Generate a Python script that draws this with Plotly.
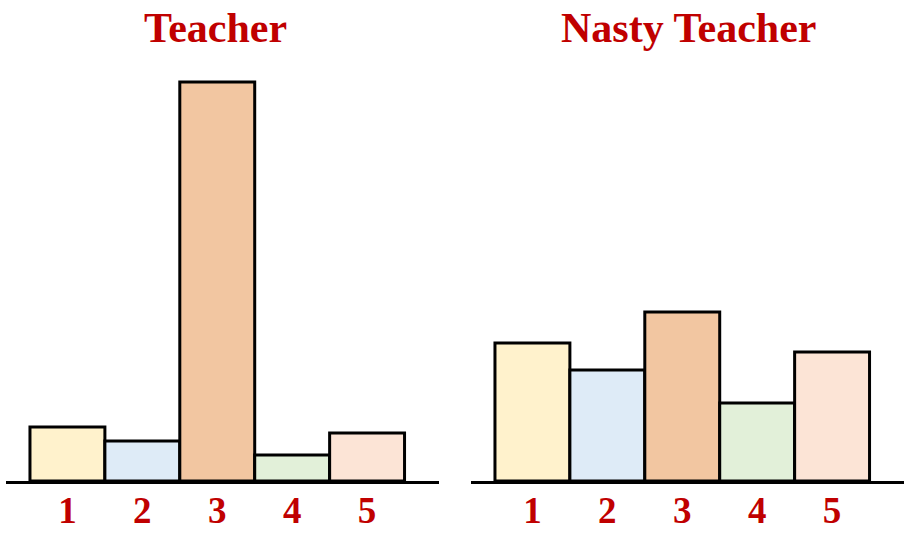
import plotly.graph_objects as go

categories = ["1", "2", "3", "4", "5"]
teacher_values = [54, 40, 399, 26, 48]
nasty_values = [138, 111, 169, 78, 129]
bar_colors = ["#FFF2CC", "#DEEBF7", "#F2C6A1", "#E2F0D9", "#FCE4D6"]
titles = ["Teacher", "Nasty Teacher"]

RED = "#C00000"
FONT = "Liberation Serif"

fig = go.Figure()
fig.add_trace(go.Bar(x=categories, y=teacher_values, xaxis="x", yaxis="y",
                     marker=dict(color=bar_colors, line=dict(color="black", width=3)),
                     showlegend=False, hoverinfo="skip"))
fig.add_trace(go.Bar(x=categories, y=nasty_values, xaxis="x2", yaxis="y2",
                     marker=dict(color=bar_colors, line=dict(color="black", width=3)),
                     showlegend=False, hoverinfo="skip"))

W, H = 916, 533
base = 481
ydom = [(H - base) / H, 1]

xcommon = dict(type="category", range=[-0.82, 4.96], showline=True, linecolor="black",
               linewidth=3, ticks="", showgrid=False, zeroline=False, automargin=False,
               ticklabelstandoff=-5,
               tickfont=dict(family=FONT, size=37, color=RED, weight="bold"))
ycommon = dict(range=[0, base], visible=False, showgrid=False, zeroline=False,
               domain=ydom, automargin=False)

fig.update_layout(
    width=W, height=H,
    margin=dict(l=0, r=0, t=0, b=0, pad=0),
    paper_bgcolor="white", plot_bgcolor="white",
    bargap=0,
    xaxis=dict(domain=[6 / W, 439 / W], anchor="y", **xcommon),
    xaxis2=dict(domain=[471 / W, 904 / W], anchor="y2", **xcommon),
    yaxis=dict(anchor="x", **ycommon),
    yaxis2=dict(anchor="x2", **ycommon),
    annotations=[
        dict(text=titles[0], x=215 / W, y=1 - 28 / H, xref="paper", yref="paper",
             xanchor="center", yanchor="middle", showarrow=False,
             font=dict(family=FONT, size=42, color=RED, weight="bold")),
        dict(text=titles[1], x=689 / W, y=1 - 28 / H, xref="paper", yref="paper",
             xanchor="center", yanchor="middle", showarrow=False,
             font=dict(family=FONT, size=42, color=RED, weight="bold")),
    ],
)

fig.write_html("out.html", config={"displayModeBar": False, "staticPlot": True},
               post_script="document.body.style.margin='0';document.body.style.overflow='hidden';")
